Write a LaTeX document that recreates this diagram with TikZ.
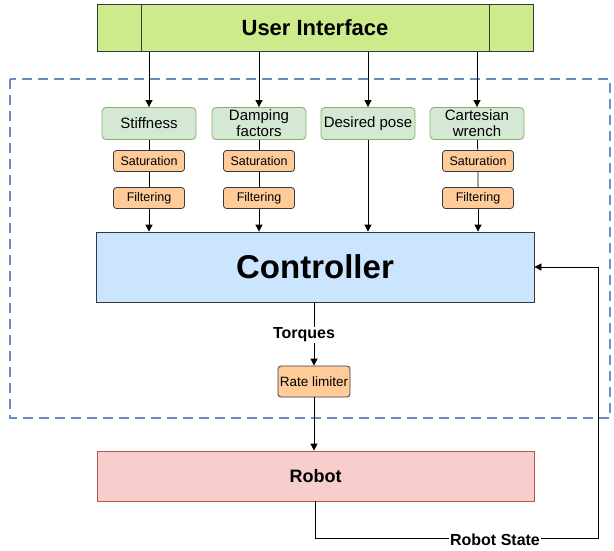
\documentclass[tikz,border=0pt]{standalone}
\usepackage{fontspec}
\setmainfont{Liberation Sans}
\usetikzlibrary{arrows.meta}
\definecolor{uifill}{HTML}{CDEB8B}
\definecolor{darkline}{HTML}{36393D}
\definecolor{greenfill}{HTML}{D5E8D4}
\definecolor{greenline}{HTML}{82B366}
\definecolor{orangefill}{HTML}{FFCC99}
\definecolor{ctrlfill}{HTML}{CCE5FF}
\definecolor{robotfill}{HTML}{F8CECC}
\definecolor{robotline}{HTML}{B85450}
\definecolor{dashblue}{HTML}{6C8EBF}
\tikzset{
  param/.style={draw=greenline, fill=greenfill, rounded corners=4pt, line width=0.8pt,
    minimum width=94pt, minimum height=32pt, inner sep=0pt, align=center,
    font=\fontsize{15}{16}\selectfont},
  limiter/.style={draw=darkline, fill=orangefill, rounded corners=3pt, line width=0.8pt,
    minimum width=71pt, minimum height=21pt, inner sep=0pt,
    font=\fontsize{12.5}{14}\selectfont},
  conn/.style={draw=black, line width=0.8pt},
  arr/.style={conn, -{Triangle[width=7pt,length=7pt]}},
  boldlabel/.style={font=\bfseries\fontsize{16}{18}\selectfont, inner sep=1pt},
}
\begin{document}
\begin{tikzpicture}[x=1pt,y=-1pt]
\useasboundingbox (0,0) rectangle (614,551);

% control boundary
\draw[dashblue, line width=2pt, dash pattern=on 10pt off 6pt] (10,79) rectangle (610,418);

% user interface (process box)
\node[draw=darkline, fill=uifill, line width=0.8pt, minimum width=436pt, minimum height=47pt,
  font=\bfseries\fontsize{22}{24}\selectfont] (ui) at (315,28) {User Interface};
\draw[darkline, line width=0.8pt] (141,4) -- (141,51) (489,4) -- (489,51);

% parameter inputs
\node[param] (stiff) at (149,123.5) {Stiffness};
\node[param] (damp) at (259,123.5) {Damping\\factors};
\node[param] (pose) at (368,123.5) {Desired pose};
\node[param] (wrench) at (477,123.5) {Cartesian\\wrench};

% saturation and filtering stages
\node[limiter] (sat1) at (149,161) {Saturation};
\node[limiter] (fil1) at (149,198) {Filtering};
\node[limiter] (sat2) at (259,161) {Saturation};
\node[limiter] (fil2) at (259,198) {Filtering};
\node[limiter] (sat4) at (478,161) {Saturation};
\node[limiter] (fil4) at (478,198) {Filtering};

% controller
\node[draw=darkline, fill=ctrlfill, line width=0.8pt, minimum width=438pt, minimum height=70pt,
  font=\bfseries\fontsize{33}{35}\selectfont] (ctrl) at (315,267) {Controller};

% rate limiter and robot
\node[limiter, minimum width=72pt, minimum height=31pt, font=\fontsize{13.5}{15}\selectfont] (rate) at (314,381.5) {Rate limiter};
\node[draw=robotline, fill=robotfill, line width=0.8pt, minimum width=437pt, minimum height=50pt,
  font=\bfseries\fontsize{18}{20}\selectfont] (robot) at (315.5,476) {Robot};

% labels on connectors
\node[boldlabel] (torq) at (304,335) {Torques};
\coordinate (rsdown) at (315,538);
\coordinate (rsright) at (598,538);
\coordinate (rsup) at (598,267);

% connectors from the user interface
\draw[arr] (ui.south -| stiff) -- (stiff.north);
\draw[arr] (ui.south -| damp) -- (damp.north);
\draw[arr] (ui.south -| pose) -- (pose.north);
\draw[arr] (ui.south -| wrench) -- (wrench.north);

% parameter chains into the controller
\draw[conn] (stiff) -- (sat1) -- (fil1);
\draw[arr] (fil1.south) -- (ctrl.north -| fil1);
\draw[conn] (damp) -- (sat2) -- (fil2);
\draw[arr] (fil2.south) -- (ctrl.north -| fil2);
\draw[arr] (pose.south) -- (ctrl.north -| pose);
\draw[conn] (wrench) -- (sat4) -- (fil4);
\draw[arr] (fil4.south) -- (ctrl.north -| fil4);

% torques through the rate limiter to the robot
\draw[conn] (ctrl.south -| rate) -- (torq.north -| rate);
\draw[arr] (torq.south -| rate) -- (rate.north);
\draw[arr] (rate.south) -- (robot.north -| rate);

% robot state feedback
\draw[arr] (robot.south -| rsdown) -- (rsdown) -- (rsright) -- (rsup) -- (ctrl.east |- rsup);
\node[boldlabel, fill=white] (rstate) at (495,540) {Robot State};
\end{tikzpicture}
\end{document}
